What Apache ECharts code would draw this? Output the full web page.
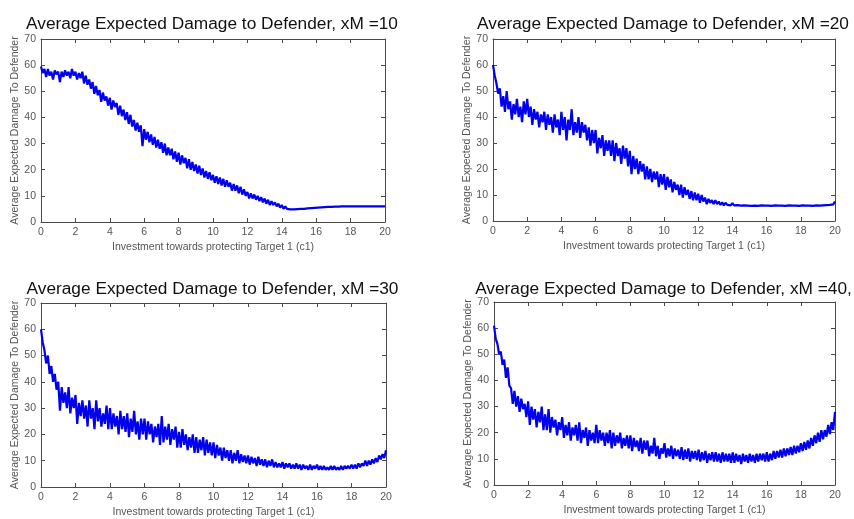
<!DOCTYPE html>
<html>
<head>
<meta charset="utf-8">
<script src="https://cdn.jsdelivr.net/npm/echarts@6/dist/echarts.min.js"></script>
<style>html,body{margin:0;padding:0;background:#fff}#chart{width:854px;height:519px}</style>
</head>
<body>
<div id="chart"></div>
<script>
// ---- data (x = 0.0 .. 20.0, step 0.1) ----
const titles = [
  'Average Expected Damage to Defender, xM =10',
  'Average Expected Damage to Defender, xM =20',
  'Average Expected Damage to Defender, xM =30',
  'Average Expected Damage to Defender, xM =40,'
];
const xLabel = 'Investment towards protecting Target 1 (c1)';
const yLabel = 'Average Expected Damage To Defender';
const xTicks = [0, 2, 4, 6, 8, 10, 12, 14, 16, 18, 20];
const yTicks = [0, 10, 20, 30, 40, 50, 60, 70];
const xStart = 0, xStep = 0.1;

const damageXM10 = [
  59.5, 57, 58.5, 55.5, 58.5, 56, 57.5, 54.5, 58, 56.5,
  57.5, 53.5, 57.5, 55.5, 58, 56, 57.5, 55, 58.5, 56,
  57.5, 54.5, 57, 55, 57.5, 53, 56, 52.5, 54.5, 51,
  53.5, 49, 52, 48.5, 50.5, 46, 49.5, 46.5, 48, 44.5,
  47.5, 43, 46.5, 44, 45.5, 41, 44.5, 40.5, 43, 39,
  42, 37.5, 41, 36.5, 39, 35, 38, 34.5, 37, 29,
  35.5, 31.5, 34.5, 30.5, 33.5, 29.5, 32.5, 28.5, 31.5, 28,
  30.5, 26.5, 30, 25.5, 28.5, 25.5, 28, 24, 27, 23,
  26.5, 22, 25.5, 22.5, 24.5, 20.5, 24, 20, 23, 19.5,
  22, 18.5, 21.5, 18, 20.5, 17, 19.5, 16.5, 19, 16,
  18, 15, 17.5, 14.5, 17, 14, 16.5, 13.5, 16, 13.5,
  15, 12, 14.5, 12, 14, 11, 13.5, 10.5, 12.5, 10,
  11.5, 9, 11, 9, 10.5, 8.5, 10, 8, 9.5, 7.5,
  9, 7, 8.5, 6.5, 8, 6.5, 7.5, 6, 7, 5.5,
  6.5, 5, 6, 5, 5.5, 4.8, 5.3, 4.8, 5.1, 4.9,
  5, 5, 5.1, 5, 5.1, 5.2, 5.2, 5.3, 5.3, 5.4,
  5.5, 5.5, 5.6, 5.6, 5.7, 5.7, 5.7, 5.8, 5.8, 5.8,
  5.9, 5.9, 5.9, 5.9, 6, 6, 6, 6, 6, 6,
  6, 6, 6, 6, 6, 6, 6, 6, 6, 6,
  6, 6, 6, 6, 6, 6, 6, 6, 6, 6,
  6
];
const damageXM20 = [
  60, 56, 53, 49, 51, 44, 48, 42, 50, 43,
  46, 39, 45, 41, 47, 40, 44, 38, 46, 41,
  47, 40, 44, 37, 43, 39, 42, 36, 41, 38,
  42, 35, 41, 37, 40, 34, 41, 36, 39, 33,
  42, 35, 40, 31, 39, 35, 43, 33, 38, 34,
  40, 32, 38, 34, 37, 31, 36, 29, 35, 30,
  35, 26, 32, 28, 33, 25, 31, 27, 31, 25,
  31, 23, 30, 25, 28, 22, 29, 24, 28, 21,
  27, 18, 25, 20, 24, 18, 23, 19, 22, 16,
  21, 16, 20, 15, 19, 16, 19, 13, 18, 14,
  18, 12, 17, 13, 16, 11, 15, 12, 14, 10,
  14, 9, 13, 10, 12, 8.5, 11.5, 8, 11, 8,
  10.5, 7, 10, 7.5, 9, 6.5, 8.5, 7, 8, 6.5,
  8, 6.5, 7.5, 6.2, 7.2, 6, 7, 6.2, 6.8, 6,
  6.8, 6, 6.6, 6.1, 6.5, 5.9, 6.4, 6, 6.3, 5.9,
  6.2, 5.8, 6.3, 5.9, 6.2, 5.8, 6.3, 6, 6.2, 5.9,
  6.3, 5.9, 6.2, 5.8, 6.3, 6, 6.2, 5.9, 6.3, 5.9,
  6.2, 5.8, 6.3, 6, 6.2, 5.9, 6.3, 5.9, 6.2, 5.8,
  6.3, 6, 6.2, 5.9, 6.3, 5.9, 6.2, 5.8, 6.3, 6,
  6.2, 5.9, 6.4, 6, 6.5, 6.1, 6.6, 6.2, 6.8, 6.4,
  7.5
];
const damageXM30 = [
  60, 55, 52, 47, 50, 43, 46, 40, 43, 37,
  40, 29, 38, 32, 36, 30, 38, 28, 34, 30,
  35, 24, 32, 27, 33, 26, 31, 23, 33, 26,
  30, 22, 33, 25, 30, 23, 28, 24, 31, 22,
  30, 22, 28, 23, 27, 20, 29, 22, 27, 21,
  28, 19, 26, 21, 29, 20, 25, 18, 26, 20,
  26, 18, 25, 20, 24, 17, 23, 19, 24, 16,
  27, 17, 23, 18, 24, 16, 22, 18, 23, 15,
  21, 15, 22, 16, 20, 14, 19, 15, 20, 13,
  19, 13, 18, 14, 19, 12, 18, 13, 17, 12,
  17, 11, 16, 12, 15, 10, 15, 11, 14, 10,
  14, 9, 13, 10, 14, 9, 12.5, 9.5, 12, 9,
  12, 8.5, 11.5, 9, 11, 8, 11.5, 8.5, 10.5, 8,
  10.5, 7.5, 10, 8, 10.5, 7.5, 9.5, 7.5, 9, 7.5,
  9.5, 7, 9, 7.5, 9, 7, 8.5, 7, 9, 7,
  8.5, 6.5, 8.5, 7, 8, 6.5, 8.5, 6.5, 8, 7,
  8.5, 6.5, 8, 6.5, 8, 6.5, 7.5, 6.5, 8, 6.5,
  8, 6.5, 7.5, 6.5, 8, 6.5, 8, 7, 8, 7,
  8.5, 7, 8.5, 7, 9, 7.5, 9, 8, 10, 8,
  10, 8.5, 10.5, 9, 11, 9.5, 12, 10.5, 12.5, 11,
  14
];
const damageXM40 = [
  61, 56, 54, 50, 51, 46, 48, 41, 45, 38,
  37, 31, 36, 30, 34, 28, 33, 29, 31, 26,
  32, 23, 30, 25, 29, 22, 28, 24, 30, 21,
  27, 21, 29, 20, 26, 22, 25, 19, 24, 21,
  26, 18, 23, 19, 24, 17, 22, 19, 23, 17,
  24, 16, 21, 18, 22, 15, 21, 17, 20, 16,
  23, 16, 21, 17, 20, 15, 20, 16, 21, 14,
  20, 15, 19, 16, 20, 14, 18, 15, 19, 14,
  19, 13, 18, 14.5, 17, 13, 18, 12, 17, 13.5,
  17, 11, 15, 12, 18, 11, 15, 10, 14, 12,
  16, 10.5, 14, 11, 15, 10, 14, 11, 13.5, 10,
  14.5, 9.5, 13.5, 10, 14, 9, 13, 10, 13, 9.5,
  13.5, 9, 12.5, 9.5, 13, 8.5, 12, 9.5, 12.5, 9,
  12.5, 9, 12, 8.5, 12.5, 9, 12, 9, 12, 8.5,
  12.5, 8.5, 12, 9, 11.5, 8, 12, 9, 11.5, 8.5,
  12, 9, 11.5, 8.5, 12, 9, 12, 9.5, 12, 9,
  12.5, 9, 12, 9.5, 13, 10, 13, 10.5, 13.5, 10.5,
  14, 11, 14, 11.5, 14.5, 11.5, 15, 12, 15, 12.5,
  16, 13, 16.5, 13.5, 17, 14, 18, 15, 19, 16,
  20, 16.5, 21, 17.5, 21, 18.5, 23, 19.5, 24, 21,
  28
];
const seriesValues = [damageXM10, damageXM20, damageXM30, damageXM40];

// ---- layout ----
const grids = [
  {left: 41, top: 39, width: 344, height: 183},
  {left: 493, top: 39, width: 342, height: 182},
  {left: 41, top: 303, width: 345, height: 184},
  {left: 494, top: 302, width: 341, height: 183}
];
const titleTops = [16, 16, 281, 281];

const axisColor = '#4a4a4a';
const labelColor = '#555';
const font = 'Liberation Sans, Arial, sans-serif';

const option = {
  animation: false,
  backgroundColor: '#fff',
  title: [], grid: [], xAxis: [], yAxis: [], series: []
};

grids.forEach((g, i) => {
  option.grid.push({left: g.left, top: g.top, width: g.width, height: g.height, containLabel: false});
  option.title.push({
    text: titles[i],
    left: g.left + g.width / 2 - 1,
    top: titleTops[i],
    padding: 0,
    textAlign: 'center',
    textStyle: {fontFamily: font, fontSize: 17.3, fontWeight: 'normal', color: '#111'}
  });
  const xBase = {
    gridIndex: i, type: 'value', min: xTicks[0], max: xTicks[xTicks.length - 1], interval: 2,
    axisLine: {show: true, onZero: false, lineStyle: {color: axisColor, width: 1}},
    axisTick: {show: true, inside: true, length: 4, lineStyle: {color: axisColor}},
    splitLine: {show: false}
  };
  option.xAxis.push(Object.assign({}, xBase, {
    position: 'bottom',
    name: xLabel, nameLocation: 'middle', nameGap: 20,
    nameTextStyle: {fontFamily: font, fontSize: 10.5, color: labelColor},
    axisLabel: {show: true, margin: 5, fontFamily: font, fontSize: 10.5, color: labelColor}
  }));
  option.xAxis.push(Object.assign({}, xBase, {position: 'top', axisLabel: {show: false}}));
  const yBase = {
    gridIndex: i, type: 'value', min: yTicks[0], max: yTicks[yTicks.length - 1], interval: 10,
    axisLine: {show: true, onZero: false, lineStyle: {color: axisColor, width: 1}},
    axisTick: {show: true, inside: true, length: 4, lineStyle: {color: axisColor}},
    splitLine: {show: false}
  };
  option.yAxis.push(Object.assign({}, yBase, {
    position: 'left',
    name: yLabel, nameLocation: 'middle', nameGap: 19, nameRotate: 90,
    nameTextStyle: {fontFamily: font, fontSize: 10.5, color: labelColor},
    axisLabel: {show: true, margin: 5, fontFamily: font, fontSize: 10.5, color: labelColor}
  }));
  option.yAxis.push(Object.assign({}, yBase, {position: 'right', axisLabel: {show: false}}));
  const vals = seriesValues[i];
  option.series.push({
    type: 'line',
    xAxisIndex: 2 * i, yAxisIndex: 2 * i,
    showSymbol: false, symbol: 'none',
    lineStyle: {color: '#0000ee', width: 2.2},
    data: vals.map((v, k) => [+(xStart + k * xStep).toFixed(1), v])
  });
});

const chart = echarts.init(document.getElementById('chart'), null, {renderer: 'canvas'});
chart.setOption(option);
</script>
</body>
</html>
